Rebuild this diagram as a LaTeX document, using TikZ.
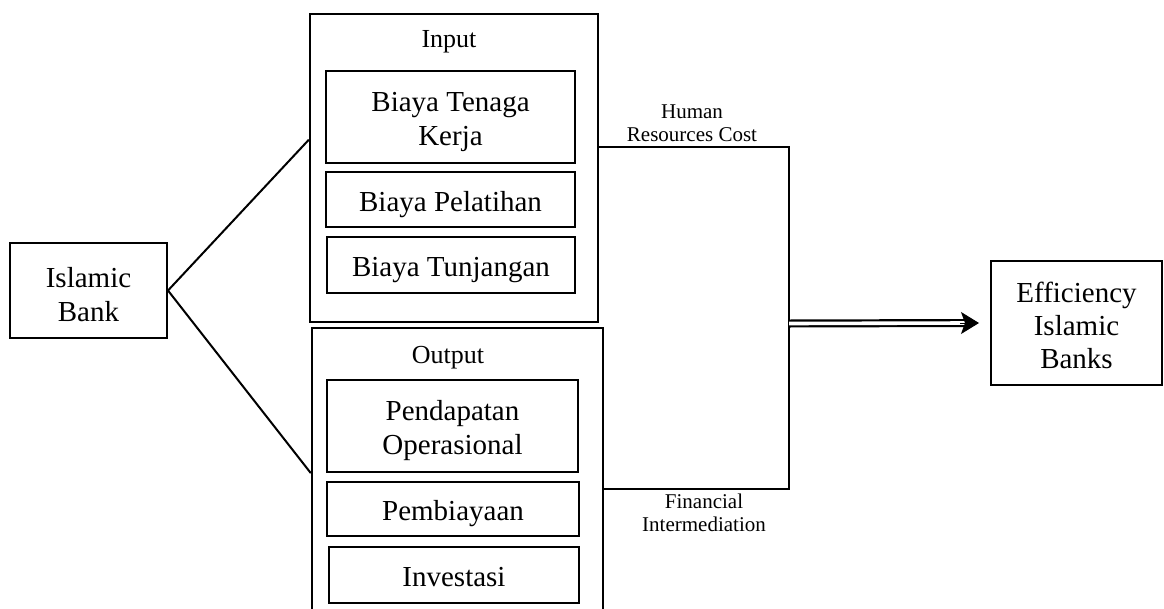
\documentclass[tikz,border=0pt]{standalone}
\usepackage{fontspec}
\setmainfont{Liberation Serif}
\usetikzlibrary{arrows.meta,calc}
\newcommand\tup[1]{\rule{0pt}{#1}}
\begin{document}
\begin{tikzpicture}[x=1pt,y=-1pt,
  box/.style={draw, line width=2.2pt, inner sep=0pt, align=center, font=\fontsize{29}{34}\selectfont},
  outer/.style={draw, line width=2.4pt, inner sep=0pt},
  title/.style={font=\fontsize{26}{30}\selectfont, inner sep=0pt, anchor=base},
  lbl/.style={font=\fontsize{21}{23}\selectfont, inner sep=0pt, align=center, anchor=base},
  conn/.style={line width=2pt}]
\useasboundingbox (0,0) rectangle (1164,608);
\clip (0,0) rectangle (1164,608);
% left node
\node[box, line width=2pt, minimum width=157pt, minimum height=95pt] (bank) at (88.5,290.5) {\tup{28pt}Islamic\\Bank};
% input group
\node[outer, minimum width=288pt, minimum height=308pt] (inp) at (454,168) {};
\node[title] (tin) at (449,47) {Input};
\node[box, minimum width=249pt, minimum height=92pt] (btk) at (450.5,117) {\tup{30pt}Biaya Tenaga\\Kerja};
\node[box, minimum width=249pt, minimum height=55pt] (bp) at (450.5,199.5) {\tup{30pt}Biaya Pelatihan};
\node[box, minimum width=248pt, minimum height=56pt] (bt) at (451,265) {\tup{30pt}Biaya Tunjangan};
% output group
\node[outer, minimum width=291pt, minimum height=292pt] (out) at (457.5,474) {};
\node[title] (tout) at (448,363) {Output};
\node[box, minimum width=251pt, minimum height=92pt] (po) at (452.5,426) {\tup{30pt}Pendapatan\\Operasional};
\node[box, minimum width=252pt, minimum height=54pt] (pem) at (453,509) {\tup{30pt}Pembiayaan};
\node[box, minimum width=250pt, minimum height=56pt] (inv) at (454,575) {\tup{24pt}Investasi};
% result
\node[box, line width=2pt, font=\fontsize{29}{33}\selectfont, minimum width=171pt, minimum height=124pt] (eff) at (1076.5,323) {\tup{25pt}Efficiency\\Islamic\\Banks};
% connectors
\coordinate (j) at (789,323.5);
\draw[conn] (bank.east) -- ($(inp.north west)!0.409!(inp.south west)$);
\draw[conn] (bank.east) -- ($(out.north west)!0.497!(out.south west)$);
\draw[conn] ($(inp.north east)!0.432!(inp.south east)$) -| (j) |- ($(out.north east)!0.551!(out.south east)$);
\draw[line width=2.2pt, double, double distance=3.6pt] (j) -- ([xshift=-24pt]eff.west);
\draw[line width=1pt, -{Stealth[length=18pt,width=22pt,inset=4pt]}] ([xshift=-30pt]eff.west) -- ([xshift=-11pt]eff.west);
% labels
\node[lbl] (hrl) at (692,141) {Human\\Resources Cost};
\node[lbl] (fil) at (704,531) {Financial\\Intermediation};
\end{tikzpicture}
\end{document}
